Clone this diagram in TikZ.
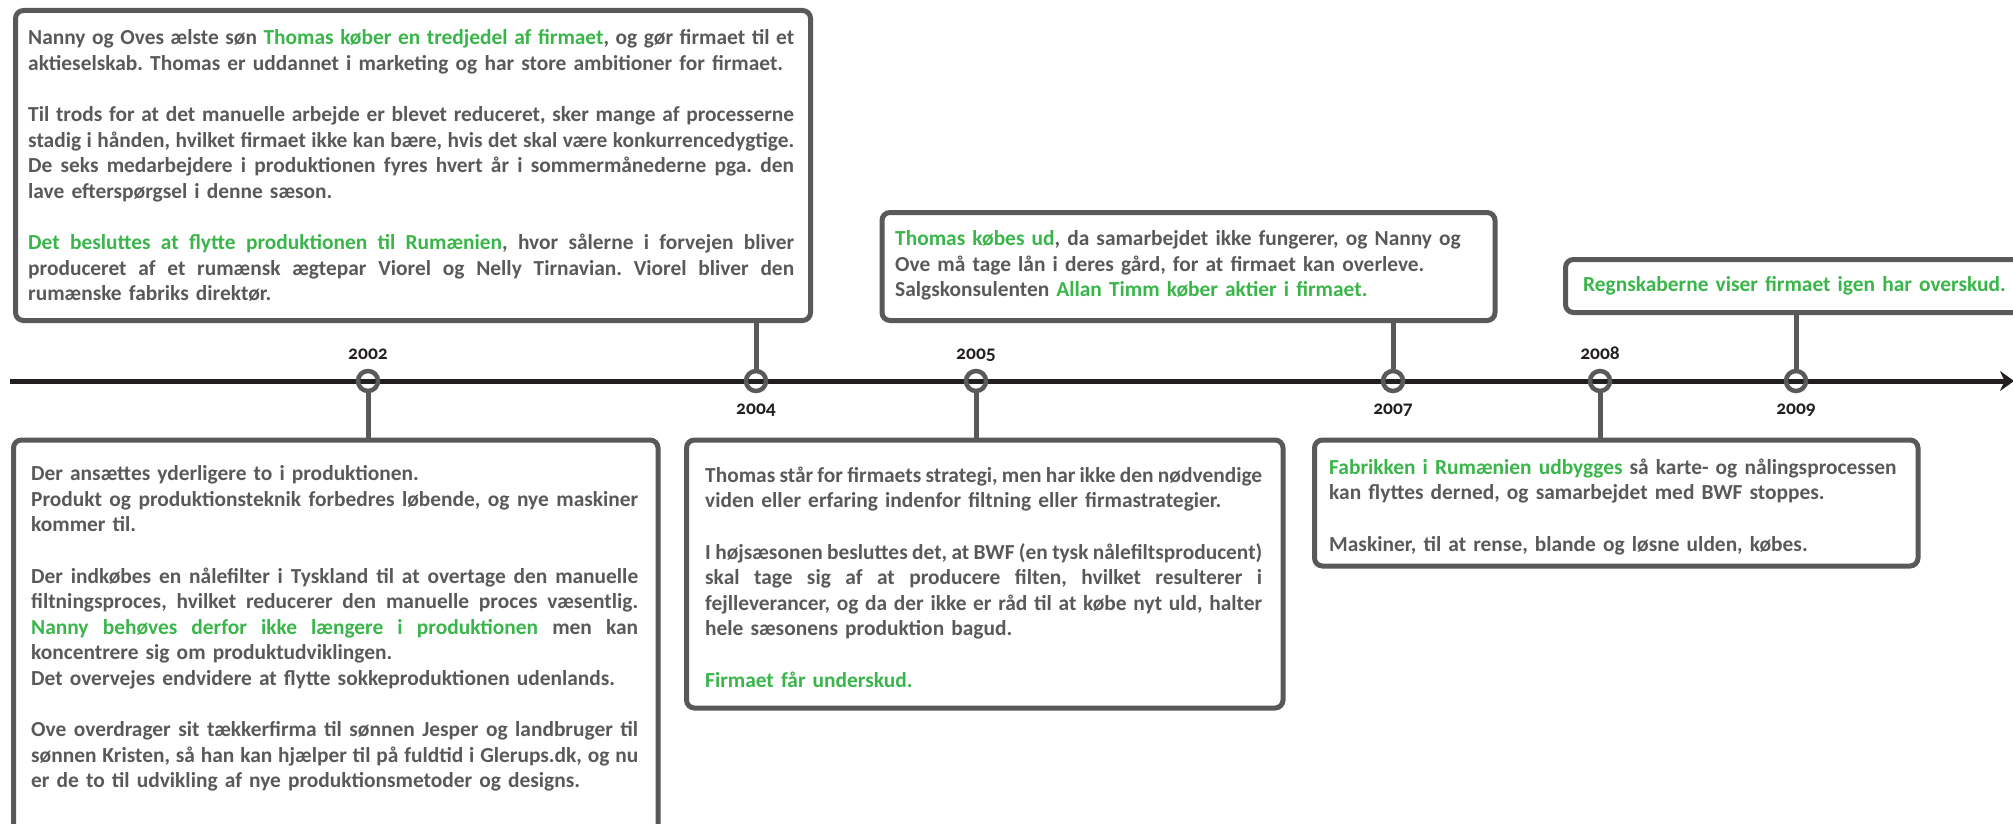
\documentclass[tikz,border=0pt]{standalone}
\usepackage{fontspec}
\usepackage{graphicx}
\setmainfont{Carlito}
\usetikzlibrary{arrows.meta,positioning}
\definecolor{tlgreen}{HTML}{39B54A}
\definecolor{tlgray}{HTML}{58595B}
\definecolor{tlblack}{HTML}{231F20}
\newlength\jlwidth
\newlength\jltmp
\newcommand\boxfont{\fontsize{21.4}{25.6}\selectfont\bfseries\frenchspacing
  \parindent=0pt}
\newcommand\yearfont{\fontsize{19.5}{20}\selectfont\bfseries
  \addfontfeatures{Numbers=OldStyle}}
\newcommand\jl[1]{\settowidth{\jltmp}{\spaceskip=.07em\relax#1}%
  \ifdim\jltmp>\jlwidth
    \resizebox{\jlwidth}{\height}{\spaceskip=.07em\relax#1}%
  \else
    \makebox[\jlwidth][s]{\spaceskip=.24em plus .8em minus .17em\relax#1}%
  \fi}
\newcommand\gr[1]{\textcolor{tlgreen}{#1}}
\tikzset{>={Stealth[length=14pt,width=20pt]},
  event/.style={draw=tlgray, line width=5pt, rounded corners=8pt,
    anchor=north west, inner sep=0pt, outer sep=0pt},
  eventtext/.style={inner sep=0pt, text=tlgray, font=\boxfont, align=left,
    text width=#1, execute at begin node={\setlength{\jlwidth}{#1}}},
  yearmark/.style={circle, draw=tlgray, line width=4.5pt, minimum size=20pt,
    inner sep=0pt},
  yearlabel/.style={font=\yearfont, text=tlblack, inner sep=0pt,
    text height=9pt, text depth=0pt},
  stem/.style={draw=tlgray, line width=5pt}}

\begin{document}
\begin{tikzpicture}[x=1pt,y=-1pt]
  \useasboundingbox (0,0) rectangle (2013,824);
  % tidslinje
  \coordinate (tlstart) at (10,381);
  \coordinate (tlend) at (2014,381);
  \draw[->, line width=5pt, tlblack] (tlstart) -- (tlend);
  \node[yearmark] (y2002) at (368,381) {};
  \node[yearmark] (y2004) at (756,381) {};
  \node[yearmark] (y2005) at (976,381) {};
  \node[yearmark] (y2007) at (1393,381) {};
  \node[yearmark] (y2008) at (1600,381) {};
  \node[yearmark] (y2009) at (1796,381) {};
  \node[yearlabel, above=9.5pt of y2002] (l2002) {2002};
  \node[yearlabel, below=12pt of y2004] (l2004) {2004};
  \node[yearlabel, above=9.5pt of y2005] (l2005) {2005};
  \node[yearlabel, below=12pt of y2007] (l2007) {2007};
  \node[yearlabel, above=9.5pt of y2008] (l2008) {2008};
  \node[yearlabel, below=12pt of y2009] (l2009) {2009};

  \node[event, minimum width=795pt, minimum height=310pt] (b2004) at (15.5,10.5) {};
  \node[event, minimum width=613pt, minimum height=108pt] (b2007) at (882,212.5) {};
  \node[event, minimum width=475pt, minimum height=53pt] (b2009) at (1565.5,259.5) {};
  \node[event, minimum width=644.5pt, minimum height=460pt] (b2002) at (13.5,440) {};
  \node[event, minimum width=596.5pt, minimum height=268pt] (b2005) at (686.5,440) {};
  \node[event, minimum width=603.5pt, minimum height=126pt] (b2008) at (1314.5,440) {};

  \draw[stem] (b2004.south -| y2004) -- (y2004);
  \draw[stem] (b2007.south -| y2007) -- (y2007);
  \draw[stem] (b2009.south -| y2009) -- (y2009);
  \draw[stem] (y2002) -- (y2002 |- b2002.north);
  \draw[stem] (y2005) -- (y2005 |- b2005.north);
  \draw[stem] (y2008) -- (y2008 |- b2008.north);

  \node[eventtext=766pt, below right=19pt and 12.5pt of b2004.north west] (t2004) {%
    \jl{Nanny og Oves ælste søn \gr{Thomas køber en tredjedel af firmaet}, og gør firmaet til et}\\
    aktieselskab. Thomas er uddannet i marketing og har store ambitioner for firmaet.\\[25.6pt]
    \jl{Til trods for at det manuelle arbejde er blevet reduceret, sker mange af processerne}\\
    \jl{stadig i hånden, hvilket firmaet ikke kan bære, hvis det skal være konkurrencedygtige.}\\
    \jl{De seks medarbejdere i produktionen fyres hvert år i sommermånederne pga. den}\\
    lave efterspørgsel i denne sæson.\\[25.6pt]
    \jl{\gr{Det besluttes at flytte produktionen til Rumænien}, hvor sålerne i forvejen bliver}\\
    \jl{produceret af et rumænsk ægtepar Viorel og Nelly Tirnavian. Viorel bliver den}\\
    rumænske fabriks direktør.};
  \node[eventtext=600pt, below right=18pt and 13pt of b2007.north west] (t2007) {%
    \gr{Thomas købes ud}, da samarbejdet ikke fungerer, og Nanny og\\
    Ove må tage lån i deres gård, for at firmaet kan overleve.\\
    Salgskonsulenten \gr{Allan Timm køber aktier i firmaet.}};
  \node[eventtext=440pt, below right=17pt and 17.5pt of b2009.north west] (t2009) {%
    \gr{Regnskaberne viser firmaet igen har overskud.}};
  \node[eventtext=607pt, below right=25.5pt and 17.5pt of b2002.north west] (t2002) {%
    Der ansættes yderligere to i produktionen.\\
    \jl{Produkt og produktionsteknik forbedres løbende, og nye maskiner}\\
    kommer til.\\[25.6pt]
    \jl{Der indkøbes en nålefilter i Tyskland til at overtage den manuelle}\\
    \jl{filtningsproces, hvilket reducerer den manuelle proces væsentlig.}\\
    \jl{\gr{Nanny behøves derfor ikke længere i produktionen} men kan}\\
    koncentrere sig om produktudviklingen.\\
    Det overvejes endvidere at flytte sokkeproduktionen udenlands.\\[25.6pt]
    \jl{Ove overdrager sit tækkerfirma til sønnen Jesper og landbruger til}\\
    \jl{sønnen Kristen, så han kan hjælper til på fuldtid i Glerups.dk, og nu}\\
    er de to til udvikling af nye produktionsmetoder og designs.};
  \node[eventtext=557pt, below right=26.5pt and 18.5pt of b2005.north west] (t2005) {%
    \jl{Thomas står for firmaets strategi, men har ikke den nødvendige}\\
    viden eller erfaring indenfor filtning eller firmastrategier.\\[25.6pt]
    \jl{I højsæsonen besluttes det, at BWF (en tysk nålefiltsproducent)}\\
    \jl{skal tage sig af at producere filten, hvilket resulterer i}\\
    \jl{fejlleverancer, og da der ikke er råd til at købe nyt uld, halter}\\
    hele sæsonens produktion bagud.\\[25.6pt]
    \gr{Firmaet får underskud.}};
  \node[eventtext=590pt, below right=18.5pt and 14.5pt of b2008.north west] (t2008) {%
    \gr{Fabrikken i Rumænien udbygges} så karte- og nålingsprocessen\\
    kan flyttes derned, og samarbejdet med BWF stoppes.\\[25.6pt]
    Maskiner, til at rense, blande og løsne ulden, købes.};
\end{tikzpicture}
\end{document}
